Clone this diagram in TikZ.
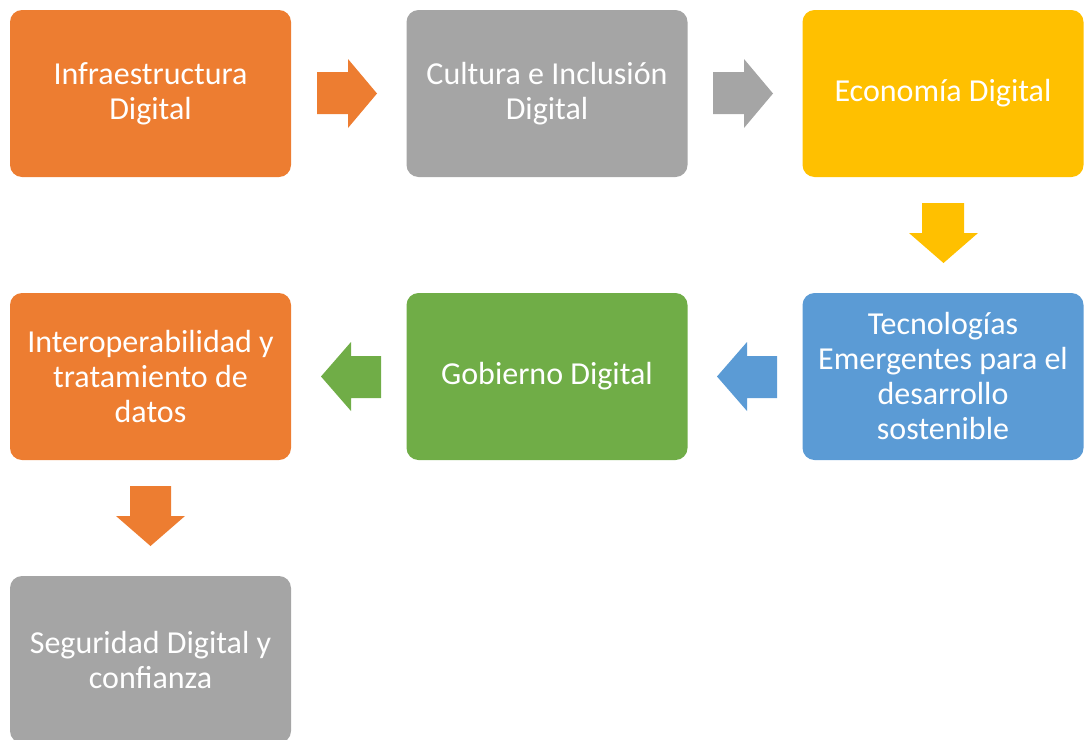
\documentclass[tikz,border=0pt]{standalone}
\usepackage{fontspec}
\setmainfont{Carlito}
\definecolor{cOrange}{HTML}{ED7D31}
\definecolor{cGray}{HTML}{A5A5A5}
\definecolor{cYellow}{HTML}{FFC000}
\definecolor{cBlue}{HTML}{5B9BD5}
\definecolor{cGreen}{HTML}{70AD47}
\begin{document}
\begin{tikzpicture}[x=1pt,y=-1pt,
  box/.style={rounded corners=12pt, minimum width=281pt, minimum height=167pt,
    inner sep=0pt, align=center, text=white,
    font=\fontsize{32}{35}\selectfont}]
\useasboundingbox (0,0) rectangle (1084,739);
\node[box, fill=cOrange] (b1) at (150.5,93.5) {Infraestructura\\Digital};
\node[box, fill=cGray] (b2) at (547,93.5) {Cultura e Inclusión\\Digital};
\node[box, fill=cYellow] (b3) at (943,93.5) {Economía Digital};
\node[box, fill=cBlue] (b4) at (943,376.5) {Tecnologías\\Emergentes para el\\desarrollo\\sostenible};
\node[box, fill=cGreen] (b5) at (547,376.5) {Gobierno Digital};
\node[box, fill=cOrange] (b6) at (150.5,376.5) {Interoperabilidad y\\tratamiento de\\datos};
\begin{scope}
\clip (0,0) rectangle (1084,739);
\node[box, fill=cGray] (b7) at (150.5,659.5) {Seguridad Digital y\\confianza};
\end{scope}
% arrows
\fill[cOrange] (317,72) -- (348,72) -- (348,59) -- (377,93.5) -- (348,128) -- (348,114) -- (317,114) -- cycle;
\fill[cGray] (713,72) -- (744,72) -- (744,59) -- (773,93.5) -- (744,128) -- (744,114) -- (713,114) -- cycle;
\fill[cYellow] (922,203) -- (922,233) -- (909,233) -- (943.5,263) -- (978,233) -- (964,233) -- (964,203) -- cycle;
\fill[cBlue] (777,356) -- (747,356) -- (747,342) -- (717,376.5) -- (747,411) -- (747,398) -- (777,398) -- cycle;
\fill[cGreen] (381,356) -- (351,356) -- (351,342) -- (321,376.5) -- (351,411) -- (351,398) -- (381,398) -- cycle;
\fill[cOrange] (130,486) -- (130,516) -- (116,516) -- (150.5,546) -- (185,516) -- (171,516) -- (171,486) -- cycle;
\end{tikzpicture}
\end{document}
